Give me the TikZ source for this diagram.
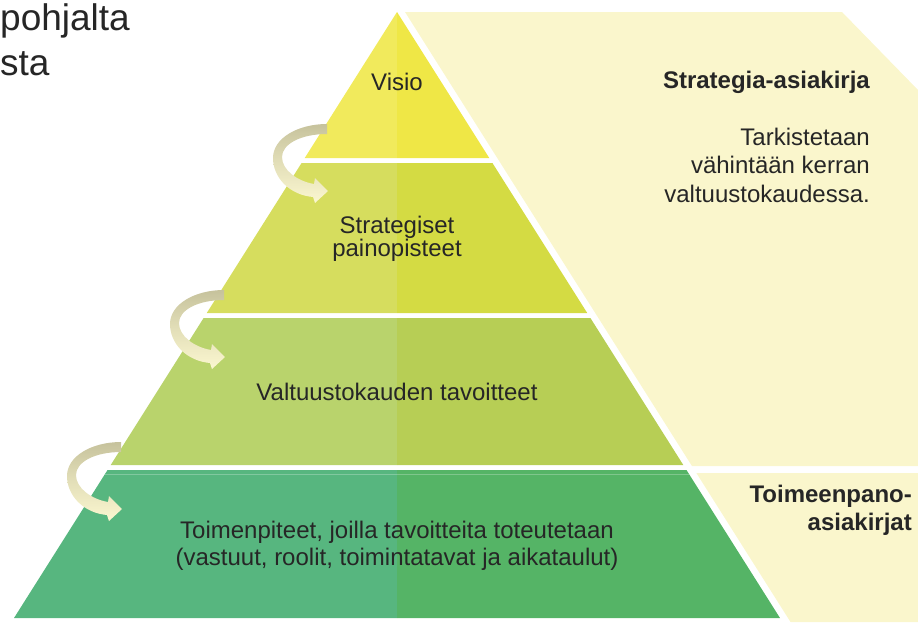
\documentclass[tikz,border=0pt]{standalone}
\usepackage{fontspec}
\setmainfont{Liberation Sans}
\definecolor{tieraL}{HTML}{F1EA5C}
\definecolor{tieraR}{HTML}{EFE746}
\definecolor{tierbL}{HTML}{D6DD5E}
\definecolor{tierbR}{HTML}{D4DB43}
\definecolor{tiercL}{HTML}{B9D36C}
\definecolor{tiercR}{HTML}{B7CE55}
\definecolor{tierdL}{HTML}{57B67F}
\definecolor{tierdR}{HTML}{55B466}
\definecolor{panel}{HTML}{FAF6CC}
\definecolor{ribbontop}{HTML}{C6C29C}
\definecolor{ribbonbot}{HTML}{FBF7D0}
\definecolor{textdark}{HTML}{262626}
\tikzset{
  tiertext/.style={font=\fontsize{24}{#1}\selectfont, text=textdark, align=center, inner sep=0pt},
  tiertext/.default=25,
  sidetext/.style={font=\fontsize{24}{28.5}\selectfont, text=textdark, align=right, inner sep=0pt},
  sidehead/.style={font=\bfseries\fontsize{24}{28}\selectfont, text=textdark, align=right, inner sep=0pt},
}
\begin{document}
\begin{tikzpicture}[x=1pt, y=-1pt]
  \useasboundingbox (0,0) rectangle (918,622);
  % side panels
  \fill[panel] (405,12) -- (842,12) -- (918,90) -- (918,466) -- ({405+0.632*(466-12)},466) -- cycle;
  \fill[panel] ({405+0.632*(473-12)},473) -- (918,473) -- (918,622) -- ({405+0.632*(622-12)},622) -- cycle;
  % pyramid tiers, left and right halves
  \foreach \ya/\yb/\cl/\cr in {12/158/tieraL/tieraR, 163/313/tierbL/tierbR, 318/465/tiercL/tiercR, 470/618/tierdL/tierdR}{
    \fill[\cl] ({397-0.632*(\ya-12)},\ya) -- (397,\ya) -- (397,\yb) -- ({397-0.632*(\yb-12)},\yb) -- cycle;
    \fill[\cr] (397,\ya) -- ({397+0.632*(\ya-12)},\ya) -- ({397+0.632*(\yb-12)},\yb) -- (397,\yb) -- cycle;
  }
  \draw[white, opacity=0.25, line width=1pt] ({397-0.632*(474-12)},474) -- ({397+0.632*(474-12)},474);
  % curved arrows between tiers
  \foreach \dx/\dy in {0/0, -103/166, -206/318}{
    \shade[shift={(\dx,\dy)}, top color=ribbontop, bottom color=ribbonbot, middle color=ribbontop!45!ribbonbot]
      (327,124) -- (327,134)
      .. controls (301,134) and (282,144) .. (282,157)
      .. controls (282,170) and (297,181) .. (314,184)
      -- (315,178) -- (328,191) -- (315,203) -- (313,197)
      .. controls (290,195) and (273,178) .. (273,158)
      .. controls (273,138) and (298,124) .. (327,124) -- cycle;
  }
  % texts
  \node[font=\fontsize{37}{45}\selectfont, text=textdark, align=left, inner sep=0pt, anchor=north west] (title) at (0,3) {pohjalta\\sta};
  \node[tiertext, anchor=base] (visio) at (397,90) {Visio};
  \node[tiertext=23, anchor=north] (painopisteet) at (397,215.5) {Strategiset\\painopisteet};
  \node[tiertext, anchor=base] (tavoitteet) at (397,400) {Valtuustokauden tavoitteet};
  \node[tiertext=27, anchor=north] (toimenpiteet) at (397,520.5) {Toimenpiteet, joilla tavoitteita toteutetaan\\(vastuut, roolit, toimintatavat ja aikataulut)};
  \node[sidehead, anchor=base east] (strategia) at (870,88) {Strategia-asiakirja};
  \node[sidetext, anchor=north east] (tarkistus) at (870,127.5) {Tarkistetaan\\vähintään kerran\\valtuustokaudessa.};
  \node[sidehead, anchor=north east] (toimeenpano) at (912,484.5) {Toimeenpano-\\asiakirjat};
\end{tikzpicture}
\end{document}
